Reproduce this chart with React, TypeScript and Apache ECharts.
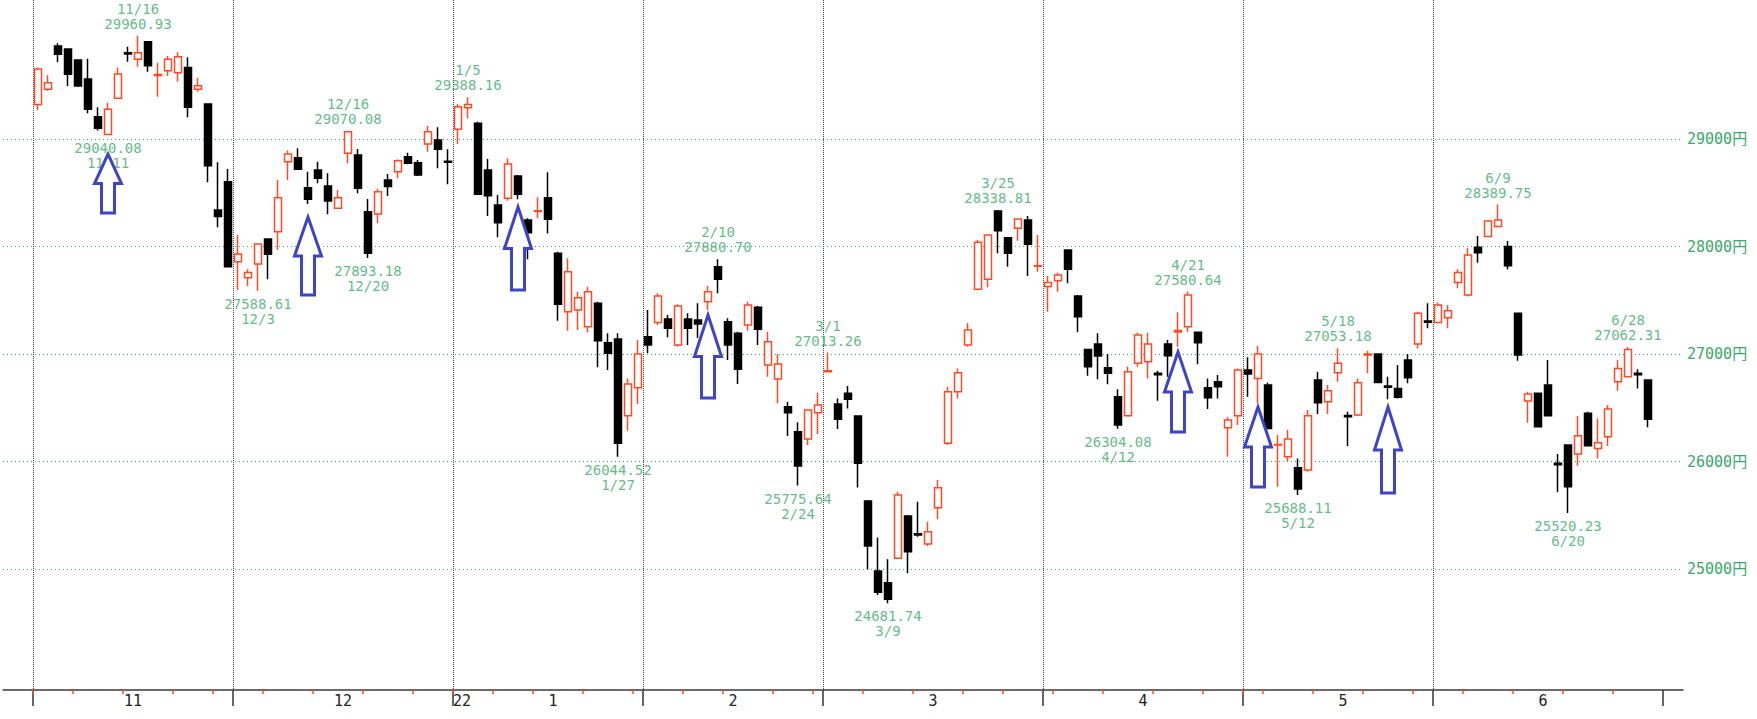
import React, { useEffect, useRef } from "react";
import * as echarts from "echarts";

// Each row: [day, open, close, low, high]
const nov2021 = [
  [1, 29322, 29651, 29270, 29664], [2, 29462, 29524, 29450, 29592], [4, 29865, 29788, 29713, 29890],
  [5, 29837, 29602, 29493, 29840], [8, 29735, 29493, 29490, 29740], [9, 29558, 29276, 29239, 29747],
  [10, 29208, 29099, 29078, 29295], [11, 29043, 29276, 29040.08, 29338], [12, 29378, 29605, 29378, 29664],
  [15, 29803, 29791, 29719, 29859], [16, 29741, 29803, 29673, 29960.93], [17, 29905, 29682, 29626, 29905],
  [18, 29590, 29599, 29394, 29710], [19, 29636, 29741, 29586, 29772], [22, 29617, 29766, 29533, 29806],
  [24, 29664, 29295, 29202, 29760], [25, 29462, 29496, 29440, 29570], [26, 29326, 28752, 28597, 29330],
  [29, 28340, 28278, 28178, 28783], [30, 28603, 27812, 27810, 28721],
];
const dec2021 = [
  [1, 27859, 27930, 27595, 28107], [2, 27710, 27757, 27633, 27788], [3, 27837, 28023, 27588.61, 28030],
  [6, 28070, 27927, 27695, 28076], [7, 28138, 28454, 27968, 28619], [8, 28789, 28861, 28619, 28892],
  [9, 28826, 28718, 28718, 28913], [10, 28547, 28439, 28395, 28696], [13, 28712, 28634, 28588, 28789],
  [14, 28563, 28423, 28299, 28681], [15, 28355, 28454, 28350, 28526], [16, 28867, 29068, 28774, 29070.08],
  [17, 28851, 28541, 28495, 28907], [20, 28324, 27937, 27893.18, 28442], [21, 28302, 28510, 28216, 28535],
  [22, 28619, 28557, 28470, 28675], [23, 28696, 28798, 28634, 28811], [24, 28836, 28774, 28764, 28873],
  [27, 28780, 28665, 28656, 28805], [28, 28953, 29068, 28882, 29121], [29, 28991, 28904, 28727, 29109],
  [30, 28792, 28783, 28578, 28904],
];
const jan2022 = [
  [4, 29090, 29301, 28953, 29326], [5, 29291, 29322, 29192, 29388.16], [6, 29146, 28485, 28480, 29161],
  [7, 28712, 28473, 28284, 28814], [11, 28386, 28222, 28085, 28479], [12, 28448, 28768, 28426, 28820],
  [13, 28656, 28485, 28439, 28665], [14, 28247, 28129, 27881, 28262], [17, 28325, 28333, 28262, 28457],
  [18, 28454, 28253, 28122, 28690], [19, 27937, 27462, 27310, 27952], [20, 27394, 27766, 27217, 27890],
  [21, 27409, 27524, 27223, 27580], [24, 27254, 27580, 27199, 27626], [25, 27471, 27124, 26876, 27487],
  [26, 27105, 27006, 26851, 27193], [27, 27139, 26169, 26044.52, 27193], [28, 26426, 26721, 26287, 26773],
  [31, 26687, 27000, 26535, 27130],
];
const feb2022 = [
  [1, 27161, 27083, 27006, 27409], [2, 27292, 27540, 27270, 27564], [3, 27326, 27239, 27155, 27363],
  [4, 27083, 27447, 27068, 27462], [7, 27326, 27239, 27083, 27378], [8, 27316, 27279, 27150, 27471],
  [9, 27487, 27580, 27409, 27633], [10, 27812, 27695, 27564, 27880.7], [14, 27301, 27083, 26944, 27332],
  [15, 27192, 26857, 26721, 27208], [16, 27270, 27456, 27217, 27487], [17, 27434, 27230, 27083, 27447],
  [18, 26897, 27114, 26789, 27208], [21, 26767, 26907, 26541, 27000], [22, 26510, 26454, 26237, 26556],
  [24, 26277, 25958, 25775.64, 26364], [25, 26209, 26479, 26153, 26480], [28, 26454, 26525, 26256, 26643],
];
const mar2022 = [
  [1, 26835, 26845, 26830, 27013.26], [2, 26535, 26392, 26302, 26587], [3, 26634, 26578, 26494, 26702],
  [4, 26423, 25983, 25759, 26425], [7, 25632, 25214, 24997, 25642], [8, 24981, 24783, 24758, 25294],
  [9, 24873, 24718, 24681.74, 25090], [10, 25099, 25688, 25090, 25719], [11, 25493, 25161, 24960, 25502],
  [14, 25329, 25316, 25301, 25626], [15, 25232, 25347, 25214, 25440], [16, 25570, 25756, 25462, 25828],
  [17, 26169, 26649, 26153, 26696], [18, 26649, 26826, 26587, 26866], [22, 27083, 27223, 27068, 27285],
  [23, 27602, 28039, 27600, 28061], [24, 27695, 28107, 27620, 28110], [25, 28330, 28147, 27937, 28338.81],
  [28, 28082, 27937, 27812, 28085], [29, 28169, 28256, 28054, 28258], [30, 28247, 28020, 27726, 28284],
  [31, 27816, 27822, 27766, 28107],
];
const apr2022 = [
  [1, 27627, 27664, 27394, 27726], [4, 27682, 27735, 27580, 27757], [5, 27968, 27788, 27658, 27970],
  [6, 27540, 27347, 27202, 27549], [7, 27043, 26882, 26798, 27050], [8, 27093, 26981, 26764, 27193],
  [11, 26873, 26820, 26718, 27000], [12, 26603, 26339, 26304.08, 26671], [13, 26426, 26835, 26420, 26882],
  [14, 26913, 27176, 26882, 27198], [15, 26928, 27093, 26773, 27198], [18, 26820, 26808, 26566, 26845],
  [19, 27093, 26984, 26789, 27130], [20, 27205, 27218, 27068, 27388], [21, 27254, 27549, 27207, 27580.64],
  [22, 27202, 27105, 26904, 27210], [25, 26687, 26594, 26488, 26773], [26, 26742, 26696, 26587, 26804],
  [27, 26314, 26386, 26045, 26411], [28, 26426, 26851, 26339, 26866],
];
const may2022 = [
  [2, 26851, 26814, 26603, 26969], [6, 26773, 27000, 26541, 27074], [9, 26711, 26308, 26299, 26733],
  [10, 26153, 26159, 25766, 26246], [11, 26045, 26209, 25998, 26293], [12, 25942, 25744, 25688.11, 26029],
  [13, 25921, 26426, 25905, 26479], [16, 26758, 26547, 26442, 26835], [17, 26556, 26659, 26442, 26711],
  [18, 26826, 26913, 26742, 27053.18], [19, 26429, 26417, 26144, 26463], [20, 26432, 26733, 26423, 26773],
  [23, 26990, 27001, 26820, 27030], [24, 27000, 26736, 26727, 27005], [25, 26702, 26690, 26578, 26789],
  [26, 26680, 26597, 26587, 26897], [27, 26944, 26780, 26727, 27000], [30, 27093, 27378, 27052, 27394],
  [31, 27307, 27295, 27239, 27471],
];
const jun2022 = [
  [1, 27292, 27456, 27290, 27478], [2, 27338, 27403, 27239, 27456], [3, 27664, 27757, 27611, 27788],
  [6, 27549, 27921, 27534, 27983], [7, 27992, 27943, 27850, 28098], [8, 28092, 28237, 28090, 28240],
  [9, 28185, 28247, 28183, 28389.75], [10, 28000, 27822, 27788, 28051], [13, 27378, 26990, 26938, 27380],
  [14, 26563, 26628, 26361, 26649], [15, 26634, 26324, 26320, 26643], [16, 26711, 26426, 26420, 26944],
  [17, 25983, 25970, 25713, 26070], [20, 26153, 25766, 25520.23, 26155], [21, 26070, 26240, 25961, 26423],
  [22, 26448, 26147, 26145, 26463], [23, 26122, 26175, 26029, 26401], [24, 26231, 26488, 26144, 26525],
  [27, 26742, 26866, 26659, 26944], [28, 26789, 27043, 26785, 27062.31], [29, 26820, 26808, 26680, 26857],
  [30, 26758, 26392, 26318, 26760],
];

const monthYears = [2021, 2021, 2022, 2022, 2022, 2022, 2022, 2022];
const monthNums = [11, 12, 1, 2, 3, 4, 5, 6];
const monthRows = [nov2021, dec2021, jan2022, feb2022, mar2022, apr2022, may2022, jun2022];
const monthLabels = ["11", "12", "1", "2", "3", "4", "5", "6"];
const yearLabel = "22";

const priceMin = 25000;
const priceMax = 29000;
const priceStep = 1000;

// marked highs (date above, value below) and lows (value above, date below)
const highMarkDates = ["2021/11/16", "2021/12/16", "2022/1/5", "2022/2/10", "2022/3/1", "2022/3/25", "2022/4/21", "2022/5/18", "2022/6/9", "2022/6/28"];
const lowMarkDates = ["2021/11/11", "2021/12/3", "2021/12/20", "2022/1/27", "2022/2/24", "2022/3/9", "2022/4/12", "2022/5/12", "2022/6/20"];
// arrows: [date, tip price, tail price]
const arrowMarks = [
  ["2021/11/11", 28860, 28312],
  ["2021/12/10", 28274, 27549],
  ["2022/1/13", 28367, 27595],
  ["2022/2/9", 27363, 26591],
  ["2022/4/20", 27019, 26274],
  ["2022/5/6", 26507, 25763],
  ["2022/5/25", 26507, 25707],
];

const PAD_BEFORE = 3;
const PAD_AFTER = 3;

const GREEN = "#3aa96b";
const RED = "#ff4a26";
const BLUE = "#3d45c6";
const FONT = '"DejaVu Sans Mono", "Noto Sans CJK JP", monospace';

function buildOption() {
  const dates: string[] = [];
  const ohlc: number[][] = [];
  const monthStart: number[] = [];
  const weekStart: number[] = [];
  let prevWeek = -1;
  monthRows.forEach((rows, mi) => {
    monthStart.push(dates.length);
    rows.forEach((r) => {
      const y = monthYears[mi];
      const m = monthNums[mi];
      const days = Date.UTC(y, m - 1, r[0]) / 86400000;
      const wk = Math.floor((days + 3) / 7);
      if (wk !== prevWeek) weekStart.push(dates.length);
      prevWeek = wk;
      dates.push(`${y}/${m}/${r[0]}`);
      ohlc.push([r[1], r[2], r[3], r[4]]);
    });
  });
  const n = dates.length;
  const cats0: string[] = [];
  for (let i = 0; i < PAD_BEFORE; i++) cats0.push("pre" + i);
  cats0.push(...dates);
  for (let i = 0; i < PAD_AFTER; i++) cats0.push("post" + i);
  const total = cats0.length;
  const cats1: string[] = [];
  for (let k = 0; k <= total; k++) cats1.push(String(k));

  const monthTick = new Set<number>(monthStart.map((i) => i + PAD_BEFORE));
  const monthSplit = new Set<number>(monthStart.map((i) => i + PAD_BEFORE));
  monthTick.add(n + PAD_BEFORE + 1);
  const weekTick = new Set<number>(weekStart.map((i) => i + PAD_BEFORE));
  const labelMap = new Map<number, string>();
  monthStart.forEach((s, j) => {
    const e = j + 1 < monthStart.length ? monthStart[j + 1] : n;
    const mid = Math.round((s + e) / 2) + PAD_BEFORE;
    labelMap.set(mid, monthLabels[j]);
    if (j > 0 && monthYears[j] !== monthYears[j - 1]) {
      labelMap.set(s + PAD_BEFORE, "{y|" + yearLabel + "}");
    }
  });

  const candleData = dates.map((d, i) => [d, ...ohlc[i]]);
  const md = (d: string) => d.split("/").slice(1).join("/");
  const highData = highMarkDates.map((d) => {
    const v = ohlc[dates.indexOf(d)][3];
    return { value: [d, v], txt: md(d) + "\n" + v.toFixed(2) };
  });
  const lowData = lowMarkDates.map((d) => {
    const v = ohlc[dates.indexOf(d)][2];
    return { value: [d, v], txt: v.toFixed(2) + "\n" + md(d) };
  });

  const labelStyle = {
    show: true,
    formatter: (p: any) => p.data.txt,
    color: GREEN,
    fontFamily: FONT,
    fontSize: 14,
    lineHeight: 15,
    align: "center",
  };

  return {
    animation: false,
    backgroundColor: "#ffffff",
    grid: [
      { left: 3, top: 139, width: 1680, height: 430, containLabel: false, outerBoundsMode: "none" },
      { left: 3, top: 0, width: 1680, height: 690, containLabel: false, outerBoundsMode: "none" },
    ],
    xAxis: [
      { type: "category", gridIndex: 0, data: cats0, boundaryGap: true, show: false },
      {
        type: "category",
        gridIndex: 1,
        data: cats1,
        boundaryGap: false,
        position: "bottom",
        axisLine: { show: true, lineStyle: { color: "#3a3a3a", width: 1.5 } },
        axisTick: {
          show: true,
          interval: (i: number) => monthTick.has(i),
          length: 16,
          lineStyle: { color: "#333", width: 1.5 },
        },
        axisLabel: {
          show: true,
          interval: (i: number) => labelMap.has(i),
          formatter: (_v: string, i: number) => labelMap.get(i) || "",
          margin: 3,
          color: "#222",
          fontFamily: FONT,
          fontSize: 15,
          rich: { y: { padding: [0, 0, 0, 18], color: "#222", fontFamily: FONT, fontSize: 15 } },
        },
        splitLine: {
          show: true,
          interval: (i: number) => monthSplit.has(i),
          lineStyle: { color: "#444", type: [1, 1], width: 1 },
        },
      },
      {
        type: "category",
        gridIndex: 1,
        data: cats1,
        boundaryGap: false,
        position: "bottom",
        axisLine: { show: false },
        axisTick: {
          show: true,
          interval: (i: number) => weekTick.has(i),
          length: 4,
          lineStyle: { color: RED, width: 1.5 },
        },
        axisLabel: { show: false },
        splitLine: { show: false },
      },
    ],
    yAxis: [
      {
        type: "value",
        gridIndex: 0,
        position: "right",
        min: priceMin,
        max: priceMax,
        interval: priceStep,
        axisLine: { show: false },
        axisTick: { show: false },
        axisLabel: {
          formatter: (v: number) => v + "円",
          color: GREEN,
          fontFamily: FONT,
          fontSize: 15,
          margin: 4,
        },
        splitLine: { show: true, lineStyle: { color: GREEN, type: [1, 3], width: 1 } },
      },
      { type: "value", gridIndex: 1, show: false, min: 0, max: 1, splitLine: { show: false } },
    ],
    series: [
      {
        type: "candlestick",
        xAxisIndex: 0,
        yAxisIndex: 0,
        data: candleData,
        encode: { x: 0, y: [1, 2, 3, 4] },
        barWidth: 7,
        clip: false,
        z: 3,
        itemStyle: {
          color: "#ffffff",
          color0: "#000000",
          borderColor: RED,
          borderColor0: "#000000",
          borderColorDoji: RED,
          borderWidth: 1.5,
        },
      },
      {
        type: "scatter",
        xAxisIndex: 0,
        yAxisIndex: 0,
        data: highData,
        symbolSize: 1,
        clip: false,
        z: 4,
        itemStyle: { color: "rgba(0,0,0,0)" },
        label: { ...labelStyle, position: "top", distance: 4 },
      },
      {
        type: "scatter",
        xAxisIndex: 0,
        yAxisIndex: 0,
        data: lowData,
        symbolSize: 1,
        clip: false,
        z: 4,
        itemStyle: { color: "rgba(0,0,0,0)" },
        label: { ...labelStyle, position: "bottom", distance: 5 },
      },
      {
        type: "custom",
        xAxisIndex: 0,
        yAxisIndex: 0,
        data: arrowMarks,
        encode: { x: 0, y: [1, 2] },
        clip: false,
        z: 5,
        renderItem: (_params: any, api: any) => {
          const tip = api.coord([api.value(0), api.value(1)]);
          const tail = api.coord([api.value(0), api.value(2)]);
          const x = tip[0];
          const ty = tip[1];
          const by = tail[1];
          const hl = (by - ty) * 0.5;
          const hw = 13.5;
          const sw = 6.5;
          return {
            type: "polygon",
            shape: {
              points: [
                [x, ty], [x + hw, ty + hl], [x + sw, ty + hl], [x + sw, by],
                [x - sw, by], [x - sw, ty + hl], [x - hw, ty + hl],
              ],
            },
            style: { fill: "#ffffff", stroke: BLUE, lineWidth: 3, lineJoin: "miter" },
          };
        },
      },
    ],
  };
}

export default function App() {
  const ref = useRef<HTMLDivElement>(null);
  useEffect(() => {
    if (!ref.current) return;
    const chart = echarts.init(ref.current, null, { renderer: "svg" });
    chart.setOption(buildOption() as any);
    return () => chart.dispose();
  }, []);
  return (
    <div
      ref={ref}
      style={{ position: "absolute", left: 0, top: 0, width: 1757, height: 719, background: "#fff" }}
    />
  );
}
